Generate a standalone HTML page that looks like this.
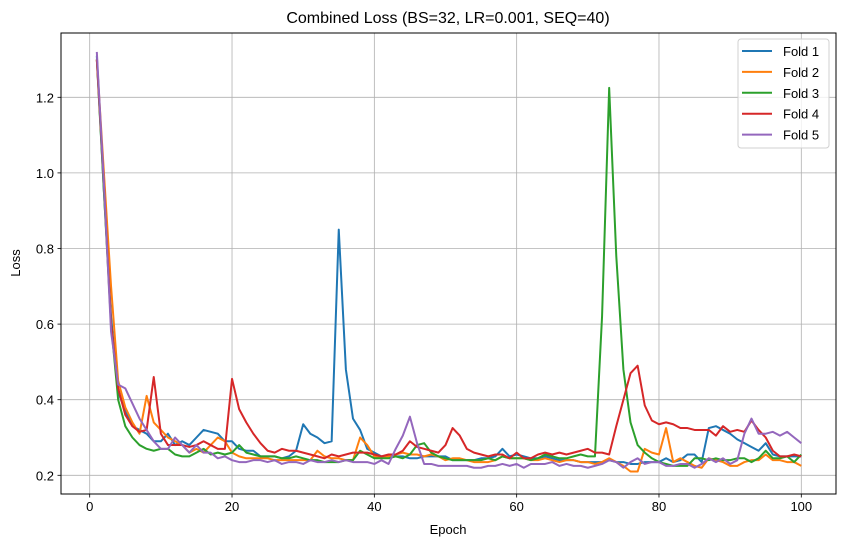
<!DOCTYPE html>
<html><head><meta charset="utf-8"><style>
html,body{margin:0;padding:0;background:#fff}
svg{display:block;font-family:"Liberation Sans","DejaVu Sans",sans-serif}
</style></head><body>
<svg id="chart" width="846" height="547" viewBox="0 0 846 547" xmlns="http://www.w3.org/2000/svg">
<rect width="846" height="547" fill="#fff"/>
<text x="448" y="23" text-anchor="middle" font-size="16" fill="#000">Combined Loss (BS=32, LR=0.001, SEQ=40)</text>
<g id="grid"></g>
<g id="series"></g>
<rect x="61" y="33" width="775" height="461" fill="none" stroke="#000" stroke-width="1"/>
<g id="ticks"></g>
<text x="448" y="534" text-anchor="middle" font-size="13" fill="#000">Epoch</text>
<text x="20" y="263" text-anchor="middle" font-size="13" fill="#000" transform="rotate(-90 20 263)">Loss</text>
<g id="legend"></g>
</svg>
<script>
const xTicks = [0, 20, 40, 60, 80, 100];
const yTicks = [0.2, 0.4, 0.6, 0.8, 1.0, 1.2];
const yTickLabels = ["0.2", "0.4", "0.6", "0.8", "1.0", "1.2"];
const seriesNames = ["Fold 1", "Fold 2", "Fold 3", "Fold 4", "Fold 5"];
const seriesColors = ["#1f77b4", "#ff7f0e", "#2ca02c", "#d62728", "#9467bd"];
const fold1 = [1.31,0.95,0.62,0.42,0.37,0.33,0.32,0.31,0.29,0.29,0.31,0.28,0.29,0.28,0.30,0.32,0.315,0.31,0.29,0.29,0.27,0.265,0.265,0.25,0.25,0.25,0.245,0.25,0.265,0.335,0.31,0.30,0.285,0.29,0.85,0.48,0.35,0.32,0.27,0.26,0.25,0.25,0.25,0.25,0.245,0.245,0.25,0.25,0.25,0.25,0.24,0.24,0.24,0.24,0.245,0.245,0.25,0.27,0.25,0.255,0.25,0.245,0.245,0.25,0.245,0.24,0.24,0.24,0.235,0.235,0.235,0.235,0.24,0.235,0.235,0.23,0.23,0.235,0.235,0.235,0.245,0.235,0.24,0.255,0.255,0.235,0.325,0.33,0.32,0.31,0.295,0.285,0.275,0.265,0.285,0.255,0.25,0.25,0.25,0.25];
const fold2 = [1.30,1.0,0.70,0.45,0.38,0.34,0.31,0.41,0.34,0.32,0.30,0.29,0.28,0.26,0.27,0.26,0.28,0.30,0.29,0.26,0.25,0.245,0.245,0.245,0.245,0.24,0.24,0.24,0.24,0.24,0.24,0.265,0.25,0.245,0.245,0.24,0.24,0.30,0.28,0.25,0.245,0.25,0.255,0.26,0.255,0.255,0.25,0.255,0.25,0.24,0.245,0.245,0.24,0.235,0.235,0.235,0.24,0.25,0.245,0.245,0.245,0.24,0.24,0.245,0.24,0.235,0.24,0.24,0.235,0.235,0.23,0.235,0.245,0.235,0.225,0.21,0.21,0.27,0.26,0.255,0.325,0.235,0.245,0.235,0.225,0.22,0.245,0.24,0.235,0.225,0.225,0.235,0.24,0.24,0.255,0.24,0.24,0.235,0.235,0.225];
const fold3 = [1.30,0.95,0.6,0.4,0.33,0.30,0.28,0.27,0.265,0.27,0.27,0.255,0.25,0.25,0.26,0.27,0.255,0.26,0.255,0.26,0.28,0.26,0.255,0.25,0.25,0.25,0.245,0.245,0.25,0.245,0.24,0.24,0.235,0.235,0.235,0.24,0.24,0.265,0.255,0.245,0.245,0.245,0.25,0.245,0.255,0.28,0.285,0.26,0.25,0.245,0.24,0.24,0.24,0.24,0.24,0.245,0.24,0.25,0.245,0.245,0.245,0.24,0.245,0.255,0.25,0.245,0.245,0.25,0.255,0.25,0.25,0.62,1.225,0.78,0.48,0.34,0.28,0.26,0.245,0.235,0.23,0.225,0.225,0.225,0.245,0.245,0.24,0.245,0.24,0.24,0.245,0.245,0.235,0.245,0.265,0.245,0.245,0.25,0.235,0.255];
const fold4 = [1.30,0.97,0.6,0.43,0.36,0.33,0.315,0.32,0.46,0.31,0.28,0.28,0.28,0.275,0.28,0.29,0.28,0.27,0.27,0.455,0.375,0.34,0.31,0.285,0.265,0.26,0.27,0.265,0.265,0.26,0.255,0.25,0.245,0.255,0.25,0.255,0.26,0.26,0.26,0.255,0.25,0.255,0.255,0.265,0.29,0.275,0.27,0.265,0.26,0.28,0.325,0.305,0.27,0.26,0.255,0.25,0.255,0.255,0.245,0.26,0.245,0.245,0.255,0.26,0.255,0.26,0.255,0.26,0.265,0.27,0.26,0.26,0.255,0.33,0.4,0.47,0.49,0.385,0.345,0.335,0.34,0.335,0.325,0.325,0.32,0.32,0.32,0.305,0.33,0.315,0.32,0.315,0.345,0.32,0.3,0.265,0.25,0.25,0.255,0.25];
const fold5 = [1.32,0.97,0.58,0.44,0.43,0.39,0.35,0.32,0.29,0.27,0.27,0.30,0.28,0.26,0.28,0.26,0.26,0.245,0.25,0.24,0.235,0.235,0.24,0.24,0.235,0.24,0.23,0.235,0.235,0.23,0.24,0.235,0.235,0.24,0.235,0.24,0.235,0.235,0.235,0.23,0.24,0.23,0.27,0.305,0.355,0.285,0.23,0.23,0.225,0.225,0.225,0.225,0.225,0.22,0.22,0.225,0.225,0.23,0.225,0.23,0.22,0.23,0.23,0.23,0.235,0.225,0.23,0.225,0.225,0.22,0.225,0.23,0.24,0.235,0.22,0.235,0.245,0.23,0.235,0.235,0.225,0.225,0.23,0.23,0.22,0.23,0.245,0.235,0.245,0.23,0.24,0.31,0.35,0.31,0.31,0.315,0.305,0.315,0.3,0.285];
const allSeries = [fold1, fold2, fold3, fold4, fold5];

const NS = "http://www.w3.org/2000/svg";
const L = 61, R = 836, T = 33, B = 494;
function xPix(v){ return 89.7 + v * 7.116; }
function yPix(v){ return 475.3 - (v - 0.2) * 378; }
function mk(tag, attrs, parent){ const e = document.createElementNS(NS, tag); for (const k in attrs) e.setAttribute(k, attrs[k]); parent.appendChild(e); return e; }

const grid = document.getElementById("grid");
const ticks = document.getElementById("ticks");
xTicks.forEach(function(t){
  const x = xPix(t);
  const g = mk("line", {x1:x, x2:x, y1:T, y2:B, stroke:"#b0b0b0", "stroke-width":0.8}, grid);
  
  
  mk("line", {x1:x, x2:x, y1:B, y2:B+3.5, stroke:"#000", "stroke-width":0.8}, ticks);
  const tx = mk("text", {x:x, y:B+17, "text-anchor":"middle", "font-size":13, fill:"#000"}, ticks);
  tx.textContent = String(t);
  
  
});
yTicks.forEach(function(t, i){
  const y = yPix(t);
  const g = mk("line", {x1:L, x2:R, y1:y, y2:y, stroke:"#b0b0b0", "stroke-width":0.8}, grid);
  
  
  mk("line", {x1:L-3.5, x2:L, y1:y, y2:y, stroke:"#000", "stroke-width":0.8}, ticks);
  const tx = mk("text", {x:L-7, y:y+5, "text-anchor":"end", "font-size":13, fill:"#000"}, ticks);
  tx.textContent = yTickLabels[i];
  
  
});

const sg = document.getElementById("series");
allSeries.forEach(function(data, si){
  const pts = data.map(function(v, i){ return xPix(i + 1).toFixed(2) + "," + yPix(v).toFixed(2); }).join(" ");
  const pl = mk("polyline", {points:pts, fill:"none", stroke:seriesColors[si], "stroke-width":2, "stroke-linejoin":"round"}, sg);
  
  
});

const lg = document.getElementById("legend");
const box = mk("rect", {x:738, y:39, width:91, height:109, rx:3, fill:"#fff", "fill-opacity":0.8, stroke:"#d0d0d0", "stroke-width":1}, lg);


seriesNames.forEach(function(n, i){
  const y = 51 + i * 20.9;
  const gi = mk("g", {}, lg);
  
  
  mk("line", {x1:742, x2:772, y1:y, y2:y, stroke:seriesColors[i], "stroke-width":2}, gi);
  const t = mk("text", {x:783, y:y+5, "font-size":13, fill:"#000"}, gi);
  t.textContent = n;
});
</script>
</body></html>
